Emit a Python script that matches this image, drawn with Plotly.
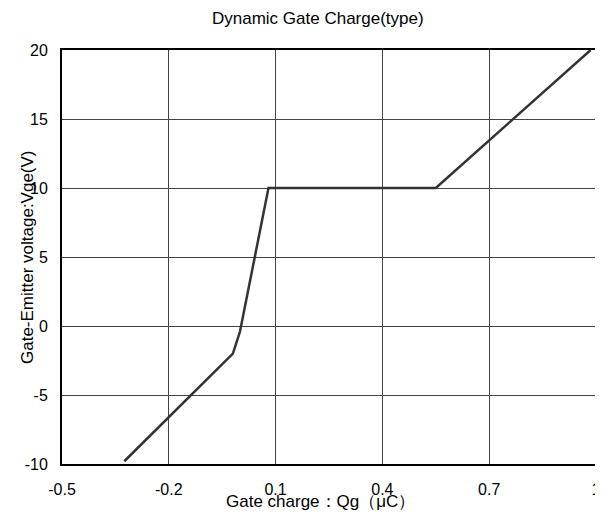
import plotly.graph_objects as go

# Data
qg = [-0.325, -0.02, 0.0, 0.08, 0.55, 0.985]
vge = [-9.8, -2.0, -0.4, 10.0, 10.0, 20.0]

x_ticks = [-0.5, -0.2, 0.1, 0.4, 0.7, 1.0]
x_tick_text = ["-0.5", "-0.2", "0.1", "0.4", "0.7", "1"]
y_ticks = [-10, -5, 0, 5, 10, 15, 20]
y_tick_text = ["-10", "-5", "0", "5", "10", "15", "20"]

FONT = "Liberation Sans, Arial, sans-serif"

# the page body has an 8px default margin; compensate so the plot lands
# at the reference's pixel positions
OFF = 8
W, H = 603 - OFF, 513 - OFF
L, R, T, B = 62 - OFF, 7, 50 - OFF, 49
PW = W - L - R
PH = H - T - B

fig = go.Figure()
fig.add_trace(go.Scatter(x=qg, y=vge, mode="lines",
                         line=dict(color="#333333", width=2.5),
                         showlegend=False, hoverinfo="skip"))

fig.update_layout(
    width=W, height=H,
    margin=dict(l=L, r=R, t=T, b=B, autoexpand=False),
    paper_bgcolor="white", plot_bgcolor="white",
    font=dict(family=FONT, size=16, color="black"),
    xaxis=dict(range=[-0.5, 1.0], tickvals=x_ticks, ticktext=x_tick_text,
               showgrid=True, gridcolor="#444444", gridwidth=1,
               showline=True, linecolor="black", linewidth=2, mirror=True,
               zeroline=False, ticks="", ticklabelstandoff=10,
               automargin=False, tickfont=dict(size=16)),
    yaxis=dict(range=[-10, 20], tickvals=y_ticks, ticktext=y_tick_text,
               showgrid=True, gridcolor="#444444", gridwidth=1,
               showline=True, linecolor="black", linewidth=2, mirror=True,
               zeroline=False, ticks="", ticklabelstandoff=9,
               automargin=False, tickfont=dict(size=16)),
    annotations=[
        dict(text="Dynamic Gate Charge(type)", xref="paper", yref="paper",
             x=(318 - 62) / PW, y=1 + (50 - 18) / PH, showarrow=False,
             xanchor="center", yanchor="middle", font=dict(size=17)),
        dict(text="Gate charge：Qg（μC）", xref="paper", yref="paper",
             x=(320 - 62) / PW, y=-(501 - 464) / PH, showarrow=False,
             xanchor="center", yanchor="middle", font=dict(size=17)),
        dict(text="Gate-Emitter voltage:Vge(V)", xref="paper", yref="paper",
             x=-(62 - 27) / PW, y=0.5, showarrow=False, textangle=-90,
             xanchor="center", yanchor="middle", font=dict(size=17)),
    ],
)

fig.write_html("out.html")
